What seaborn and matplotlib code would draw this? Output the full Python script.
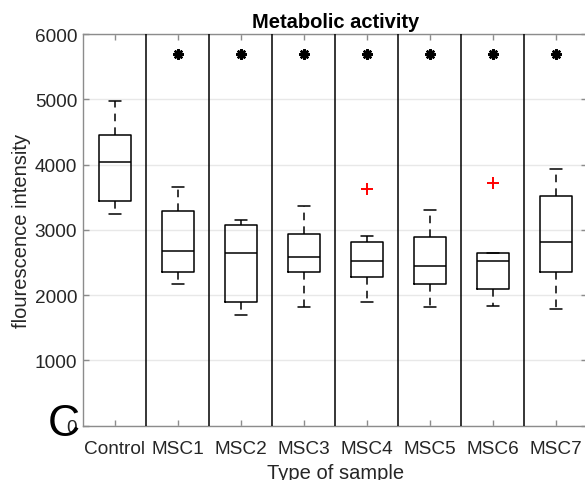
import numpy as np
import pandas as pd
import matplotlib
matplotlib.use("Agg")
import matplotlib.pyplot as plt
import seaborn as sns

categories = ["Control", "MSC1", "MSC2", "MSC3", "MSC4", "MSC5", "MSC6", "MSC7"]
whisker_low = [3245, 2168, 1699, 1817, 1894, 1811, 1837, 1786]
q1 = [3439, 2352, 1888, 2357, 2280, 2174, 2087, 2347]
median = [4041, 2674, 2653, 2587, 2521, 2439, 2526, 2821]
q3 = [4454, 3291, 3081, 2934, 2810, 2888, 2648, 3520]
whisker_high = [4970, 3653, 3148, 3363, 2913, 3306, 2648, 3929]
outliers = [None, None, None, None, 3630, None, 3720, None]
signif_y = 5700
signif_groups = ["MSC1", "MSC2", "MSC3", "MSC4", "MSC5", "MSC6", "MSC7"]

# Build sample lists whose quartiles reproduce the read box statistics
rows = []
for c, lo, a, m, b, hi, out in zip(categories, whisker_low, q1, median, q3, whisker_high, outliers):
    if out is None:
        vals = [lo, a, m, b, hi]
    else:
        vals = [lo, a, a, m, m, b, b, hi, out]
    for v in vals:
        rows.append({"group": c, "value": v})
df = pd.DataFrame(rows)

sns.set_style("white")
plt.rcParams["font.family"] = ["Liberation Sans", "DejaVu Sans"]

fig = plt.figure(figsize=(5.85, 4.81), dpi=100)
ax = fig.add_axes([0.1427, 0.1129, 0.8612, 0.8143])

text_col = "#262626"
line_col = "black"

sns.boxplot(data=df, x="group", y="value", order=categories, ax=ax,
            width=0.5, whis=1.5, fill=False, color=line_col, linecolor=line_col,
            linewidth=1.1, capwidths=0.19,
            whiskerprops=dict(linestyle=(0, (5, 4)), color=line_col),
            medianprops=dict(color=line_col),
            flierprops=dict(marker="+", markeredgecolor="red", markerfacecolor="red",
                            markersize=9, markeredgewidth=1.4))

# significance asterisks
sig_df = pd.DataFrame({"group": signif_groups, "y": [signif_y] * len(signif_groups)})
ax.plot([categories.index(g) for g in sig_df["group"]], sig_df["y"],
        linestyle="none", marker=(8, 2, 0), markersize=7.5, markeredgewidth=1.7,
        color="black", zorder=5)

# separators between groups
for i in range(len(categories) - 1):
    ax.axvline(i + 0.5, color="black", linewidth=1.1, zorder=3)

ax.set_xlim(-0.5, len(categories) - 0.5)
ax.set_ylim(0, 6000)
ax.set_yticks(np.arange(0, 6001, 1000))
ax.yaxis.grid(True, color="#e8e8e8", linewidth=1)
ax.xaxis.grid(False)
ax.set_axisbelow(True)

for s in ax.spines.values():
    s.set_visible(True)
    s.set_color("#8c8c8c")
    s.set_linewidth(1.0)

ax.tick_params(axis="both", direction="in", length=4, width=1, color="#8c8c8c",
               labelsize=13.7, labelcolor=text_col, top=True, right=True,
               bottom=True, left=True)
ax.tick_params(axis="x", pad=10)
ax.tick_params(axis="y", pad=4.5)

ax.set_title("Metabolic activity", fontsize=14.5, fontweight="bold", color="black", pad=5)
ax.set_xlabel("Type of sample", fontsize=14.5, color=text_col, labelpad=4.5)
ax.set_ylabel("flourescence intensity", fontsize=14.5, color=text_col, labelpad=3)

fig.text(64 / 585, 1 - 424 / 481, "C", fontsize=32, color="black",
         ha="center", va="center")

fig.savefig("out.png", dpi=100)
